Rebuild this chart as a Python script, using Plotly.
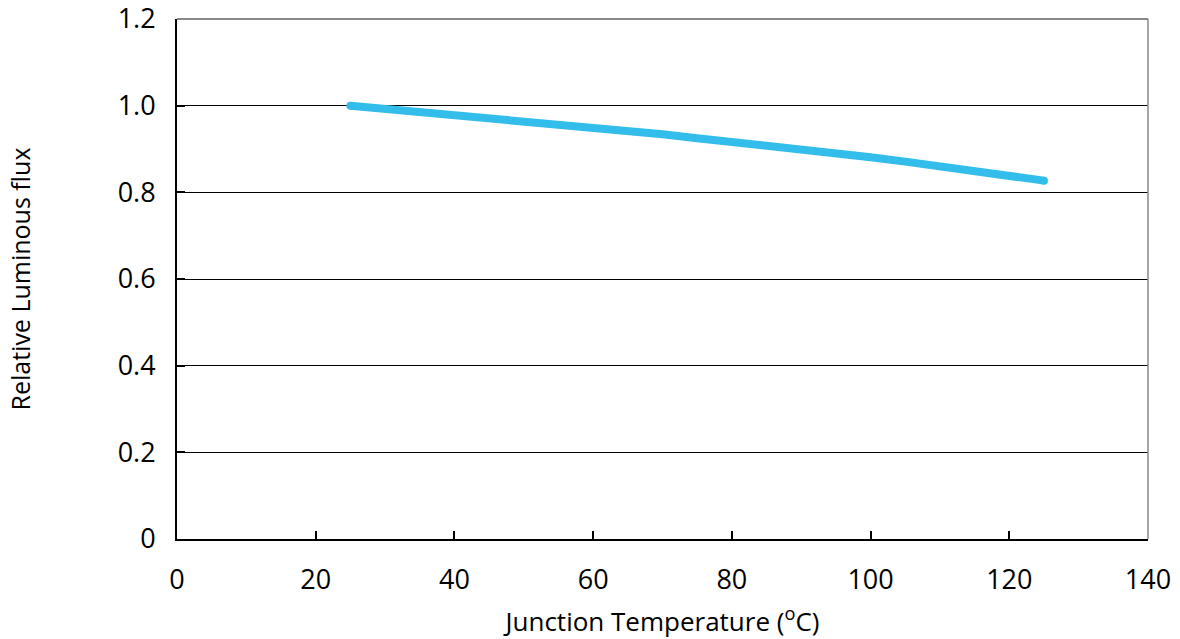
import plotly.graph_objects as go

temperature = [25, 30, 35, 40, 45, 50, 55, 60, 65, 70, 75, 80, 85, 90, 95, 100, 105, 110, 115, 120, 125]
relative_flux = [1.000, 0.993, 0.986, 0.979, 0.972, 0.965, 0.958, 0.950, 0.942, 0.934, 0.925, 0.917, 0.908, 0.899, 0.890, 0.881, 0.871, 0.861, 0.850, 0.839, 0.827]

x_ticks = [0, 20, 40, 60, 80, 100, 120, 140]
y_ticks = [0, 0.2, 0.4, 0.6, 0.8, 1.0, 1.2]
y_tick_labels = ["0", "0.2", "0.4", "0.6", "0.8", "1.0", "1.2"]

line_color = "#33BDEB"
font_family = "Open Sans"

fig = go.Figure()
fig.add_trace(go.Scatter(
    x=temperature, y=relative_flux, mode="lines",
    line=dict(color=line_color, width=8),
    showlegend=False, hoverinfo="skip",
))
fig.add_trace(go.Scatter(
    x=[temperature[0], temperature[-1]], y=[relative_flux[0], relative_flux[-1]],
    mode="markers", marker=dict(color=line_color, size=8),
    showlegend=False, hoverinfo="skip",
))

fig.update_layout(
    width=1180, height=639,
    margin=dict(l=177, r=32, t=19, b=100),
    paper_bgcolor="white", plot_bgcolor="white",
    font=dict(family=font_family, color="black"),
    xaxis=dict(
        range=[0, 140], tickvals=x_ticks,
        showgrid=False, zeroline=False, automargin=False,
        showline=True, linecolor="black", linewidth=2,
        ticks="inside", ticklen=8, tickwidth=1.5, tickcolor="black",
        tickfont=dict(size=27, family=font_family),
        ticklabelstandoff=16, ticklabeloverflow="allow",
        title=dict(text="Junction Temperature (<sup>o</sup>C)", font=dict(size=26, family=font_family), standoff=22),
    ),
    yaxis=dict(
        range=[0, 1.2001], tickvals=y_ticks, ticktext=y_tick_labels,
        showgrid=True, gridcolor="black", gridwidth=1.3,
        zeroline=False, automargin=False,
        showline=True, linecolor="black", linewidth=2,
        ticks="inside", ticklen=8, tickwidth=1.5, tickcolor="black",
        tickfont=dict(size=27, family=font_family),
        ticklabelstandoff=14, ticklabeloverflow="allow",
        title=dict(text="Relative Luminous flux", font=dict(size=25, family=font_family), standoff=80),
    ),
    shapes=[
        dict(type="line", xref="paper", yref="paper", x0=0, x1=1, y0=1, y1=1,
             line=dict(color="#888888", width=2), layer="above"),
        dict(type="line", xref="paper", yref="paper", x0=1, x1=1, y0=0, y1=1,
             line=dict(color="#888888", width=1.5), layer="above"),
    ],
)

fig.write_html("out.html")
